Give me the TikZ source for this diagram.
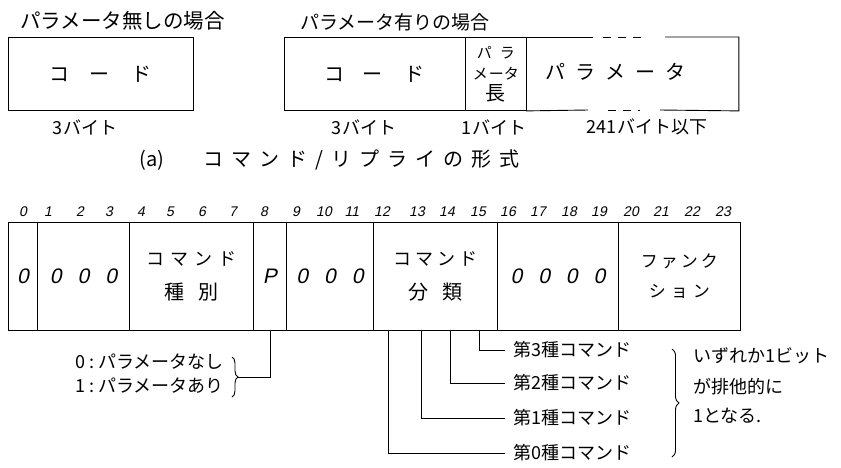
\documentclass[tikz,border=0pt]{standalone}
\usepackage{fontspec}
\setmainfont{Noto Sans CJK JP}
\newfontfamily\numf[FakeSlant=0.2]{Liberation Sans}
\newfontfamily\jpwide[LetterSpace=40]{Noto Sans CJK JP}
\usetikzlibrary{decorations.pathreplacing}
\newcommand\hgap[1]{\hspace{#1pt}}
\begin{document}
\begin{tikzpicture}[x=1pt,y=-1pt,line width=0.9pt,
  txt/.style={inner sep=0pt,font=\fontsize{18}{20}\selectfont},
  small/.style={inner sep=0pt,font=\fontsize{18}{20}\selectfont},
  bitno/.style={inner sep=0pt,font=\numf\fontsize{14}{15}\selectfont},
  fld/.style={draw,inner sep=0pt,minimum height=108pt,anchor=north west,align=center,
              font=\fontsize{18}{34}\selectfont},
  dig/.style={font=\numf\fontsize{21}{22}\selectfont},
  box/.style={inner sep=0pt,minimum height=73pt,anchor=north west,align=center},
  brc/.style={decorate,decoration={brace,amplitude=6pt}}]
\useasboundingbox (0,0) rectangle (841,467);

% ---- top: formats ----
\node[txt,anchor=west,font=\fontsize{20.5}{22}\selectfont] (t1) at (20,21) {パラメータ無しの場合};
\node[box,draw,minimum width=185pt,font=\fontsize{20}{22}\selectfont] (code1) at (8,37) {コ\hgap{20}ー\hgap{22}ド};
\node[txt] (b1) at (85,127) {3\hgap{2}バイト};

\node[txt,anchor=west,font=\fontsize{19}{20}\selectfont] (t2) at (300,22) {パラメータ有りの場合};
\node[box,draw,minimum width=181pt,font=\fontsize{20}{22}\selectfont] (code2) at (284,37) {コ\hgap{18}ー\hgap{22}ド};
\node[box,draw,minimum width=61pt,font=\fontsize{15}{21}\selectfont] (plen) at (465,37) {パ\hgap{8}ラ\\メ\hgap{1}ータ\\{\fontsize{20}{20}\selectfont 長}};
\node[box,minimum width=212pt] (param) at (526,37) {};
\node[txt,font=\fontsize{20}{22}\selectfont] (ptext) at (615,72) {パ\hgap{10}ラ\hgap{10}メ\hgap{10}ー\hgap{10}タ};
\draw (param.north west) -- (593,37);
\draw (param.south west) -- (588,110);
\draw (665,37) -- (param.north east) -- (param.south east) -- (660,110);
\draw[dash pattern=on 8pt off 7pt] (603,37) -- (645,37);
\draw[dash pattern=on 8pt off 7pt] (608,110) -- (640,110);
\node[txt] (b2) at (364,127) {3\hgap{2}バイト};
\node[txt] (b3) at (494,127) {1\hgap{2}バイト};
\node[txt] (b4) at (647,127) {241\hgap{2}バイト以下};

\node[inner sep=0pt,font=\fontsize{20}{22}\selectfont] (cap) at (152,160) {(a)};
\node[inner sep=0pt,font=\jpwide\fontsize{20}{22}\selectfont,anchor=west] (capt) at (203,160) {コマンド/リプライの形式};

% ---- register ----
\foreach \x/\n in {23/0,48/1,80/2,109/3,141/4,170/5,202/6,233/7,264/8,296/9,324/10,352/11,382/12,417/13,447/14,478/15,508/16,538/17,569/18,599/19,631/20,661/21,692/22,723/23}
  \node[bitno] (n\n) at (\x,212) {\n};

\node[fld,dig,minimum width=29pt] (f0) at (8,222) {0};
\node[fld,dig,minimum width=92pt] (f1) at (37,222) {0\hgap{16}0\hgap{16}0};
\node[fld,minimum width=124pt] (f2) at (129,222) {コ\hgap{6}マ\hgap{6}ン\hgap{6}ド\\{\fontsize{20}{20}\selectfont 種\hgap{14}別}};
\node[fld,dig,minimum width=33pt] (fP) at (253,222) {P};
\node[fld,dig,minimum width=87pt] (f9) at (286,222) {0\hgap{16}0\hgap{16}0};
\node[fld,minimum width=124pt] (fcls) at (373,222) {コ\hgap{4}マ\hgap{4}ン\hgap{4}ド\\{\fontsize{20}{20}\selectfont 分\hgap{14}類}};
\node[fld,dig,minimum width=121pt] (f16) at (497,222) {0\hgap{16}0\hgap{16}0\hgap{16}0};
\node[fld,minimum width=122pt,font=\fontsize{17}{30}\selectfont] (ffun) at (618,222) {フ\hgap{3}ァ\hgap{3}ン\hgap{3}ク\\シ\hgap{5}ョ\hgap{5}ン};

% ---- P explanation ----
\coordinate (pbr) at (238,377);
\draw (fP.south) |- (pbr);
\draw[brc] (232,357) -- (232,397);
\node[small,anchor=west] (p0) at (75,362) {0\hgap{4}:\hgap{4}パラメータなし};
\node[small,anchor=west] (p1) at (75,386) {1\hgap{4}:\hgap{4}パラメータあり};

% ---- classification bits ----
\coordinate (c12) at (388,330);
\coordinate (c13) at (421,330);
\coordinate (c14) at (450,330);
\coordinate (c15) at (479,330);
\node[small,anchor=west] (k3) at (513,350) {第3種コマンド};
\node[small,anchor=west] (k2) at (513,383) {第2種コマンド};
\node[small,anchor=west] (k1) at (513,418) {第1種コマンド};
\node[small,anchor=west] (k0) at (513,453) {第0種コマンド};
\draw (c15) |- ([xshift=-8pt]k3.west);
\draw (c14) |- ([xshift=-8pt]k2.west);
\draw (c13) |- ([xshift=-8pt]k1.west);
\draw (c12) |- ([xshift=-8pt]k0.west);
\draw[brc,decoration={amplitude=7pt}] (672,349) -- (672,457);
\node[small,anchor=west] (e1) at (693,356) {いずれか1ビット};
\node[small,anchor=west] (e2) at (693,387) {が排他的に};
\node[small,anchor=west] (e3) at (693,416) {1となる.};
\end{tikzpicture}
\end{document}
